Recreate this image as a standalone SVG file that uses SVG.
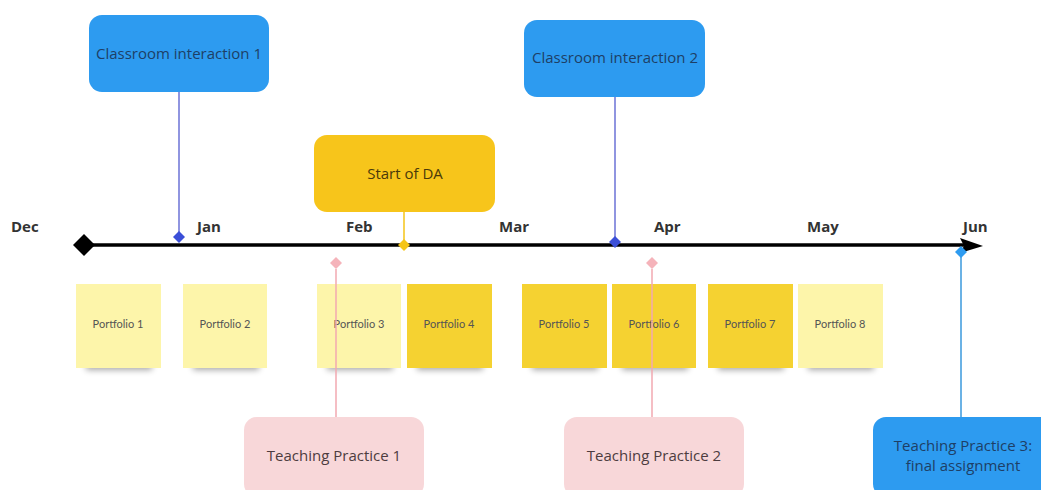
<svg xmlns="http://www.w3.org/2000/svg" width="1041" height="490" viewBox="0 0 1041 490">
<style>
.box{stroke:none}
.blue{fill:#2d9bf0}
.gold{fill:#f7c51b}
.pink{fill:#f8d7d9}
.t{font-family:"Open Sans","Noto Sans",sans-serif;font-size:15px;text-anchor:middle;dominant-baseline:central}
.tb{fill:#1e3f66}
.tg{fill:#4a3a0a}
.tp{fill:#4d3c3f}
.m{font-family:"Open Sans","Noto Sans",sans-serif;font-size:15px;font-weight:bold;fill:#333;dominant-baseline:central}
.note-l{fill:#fdf5aa}
.note-d{fill:#f5d231}
.nt{font-family:"Lato","Open Sans",sans-serif;font-size:11px;fill:#555;text-anchor:middle;dominant-baseline:central}
.sh{fill:#000;opacity:0.35;filter:url(#blur)}
</style>
<defs>
<filter id="blur" x="-20%" y="-100%" width="140%" height="300%"><feGaussianBlur stdDeviation="3"/></filter>
</defs>
<rect width="1041" height="490" fill="#fff"/>
<g id="connectors">
<line x1="179" y1="92" x2="179" y2="237" stroke="#6b72d6" stroke-width="1.5"/>
<line x1="404" y1="212" x2="404" y2="245" stroke="#f5c518" stroke-width="1.5"/>
<line x1="615" y1="97" x2="615" y2="242" stroke="#6b72d6" stroke-width="1.5"/>
<line x1="961" y1="252" x2="961" y2="417" stroke="#3a98dd" stroke-width="1.5"/>
</g>
<g id="timeline">
<line x1="84" y1="245" x2="966" y2="245" stroke="#000" stroke-width="3.5"/>
<polygon points="960,238 983,246 960,253 964,246" fill="#000"/>
<polygon points="84,234 95,245 84,256 73,245" fill="#000"/>
<polygon points="179,231 185,237 179,243 173,237" fill="#3b4fd8"/>
<polygon points="404,239 410,245 404,251 398,245" fill="#f5c518"/>
<polygon points="615,236 621,242 615,248 609,242" fill="#3b4fd8"/>
<polygon points="336,257 342,263 336,269 330,263" fill="#f5b3ba"/>
<polygon points="652,257 658,263 652,269 646,263" fill="#f5b3ba"/>
<polygon points="961,246 967,252 961,258 955,252" fill="#2d9bf0"/>
<text class="m" x="11" y="226">Dec</text>
<text class="m" x="197" y="226">Jan</text>
<text class="m" x="346" y="226">Feb</text>
<text class="m" x="499" y="226">Mar</text>
<text class="m" x="654" y="226">Apr</text>
<text class="m" x="807" y="226">May</text>
<text class="m" x="963" y="226">Jun</text>
</g>
<g id="ci1"><rect class="box blue" x="89" y="15" width="180" height="77" rx="13"/><text class="t tb" x="179" y="53">Classroom interaction 1</text></g>
<g id="ci2"><rect class="box blue" x="524" y="20" width="181" height="77" rx="13"/><text class="t tb" x="615" y="57">Classroom interaction 2</text></g>
<g id="da"><rect class="box gold" x="314" y="135" width="181" height="77" rx="13"/><text class="t tg" x="405" y="173">Start of DA</text></g>
<g id="tp1"><rect class="box pink" x="244" y="417" width="180" height="80" rx="13"/><text class="t tp" x="334" y="455">Teaching Practice 1</text></g>
<g id="tp2"><rect class="box pink" x="564" y="417" width="180" height="80" rx="13"/><text class="t tp" x="654" y="455">Teaching Practice 2</text></g>
<g id="tp3"><rect class="box blue" x="873" y="417" width="180" height="80" rx="13"/><text class="t tb" x="963" y="445">Teaching Practice 3:</text><text class="t tb" x="963" y="465">final assignment</text></g>
<g id="p1"><rect class="sh" x="86" y="362" width="66" height="8"/><rect class="note-l" x="76" y="284" width="85" height="84"/><text class="nt" x="118" y="323">Portfolio 1</text></g>
<g id="p2"><rect class="sh" x="193" y="362" width="66" height="8"/><rect class="note-l" x="183" y="284" width="84" height="84"/><text class="nt" x="225" y="323">Portfolio 2</text></g>
<g id="p3"><rect class="sh" x="327" y="362" width="66" height="8"/><rect class="note-l" x="317" y="284" width="84" height="84"/><text class="nt" x="359" y="323">Portfolio 3</text></g>
<g id="p4"><rect class="sh" x="417" y="362" width="66" height="8"/><rect class="note-d" x="407" y="284" width="85" height="84"/><text class="nt" x="449" y="323">Portfolio 4</text></g>
<g id="p5"><rect class="sh" x="532" y="362" width="66" height="8"/><rect class="note-d" x="522" y="284" width="85" height="84"/><text class="nt" x="564" y="323">Portfolio 5</text></g>
<g id="p6"><rect class="sh" x="622" y="362" width="66" height="8"/><rect class="note-d" x="612" y="284" width="84" height="84"/><text class="nt" x="654" y="323">Portfolio 6</text></g>
<g id="p7"><rect class="sh" x="718" y="362" width="66" height="8"/><rect class="note-d" x="708" y="284" width="85" height="84"/><text class="nt" x="750" y="323">Portfolio 7</text></g>
<g id="p8"><rect class="sh" x="808" y="362" width="66" height="8"/><rect class="note-l" x="798" y="284" width="85" height="84"/><text class="nt" x="840" y="323">Portfolio 8</text></g>
<g id="connectors-front">
<line x1="336" y1="269" x2="336" y2="417" stroke="#f2a8b0" stroke-width="1.5"/>
<line x1="652" y1="269" x2="652" y2="417" stroke="#f2a8b0" stroke-width="1.5"/>
</g>
</svg>
